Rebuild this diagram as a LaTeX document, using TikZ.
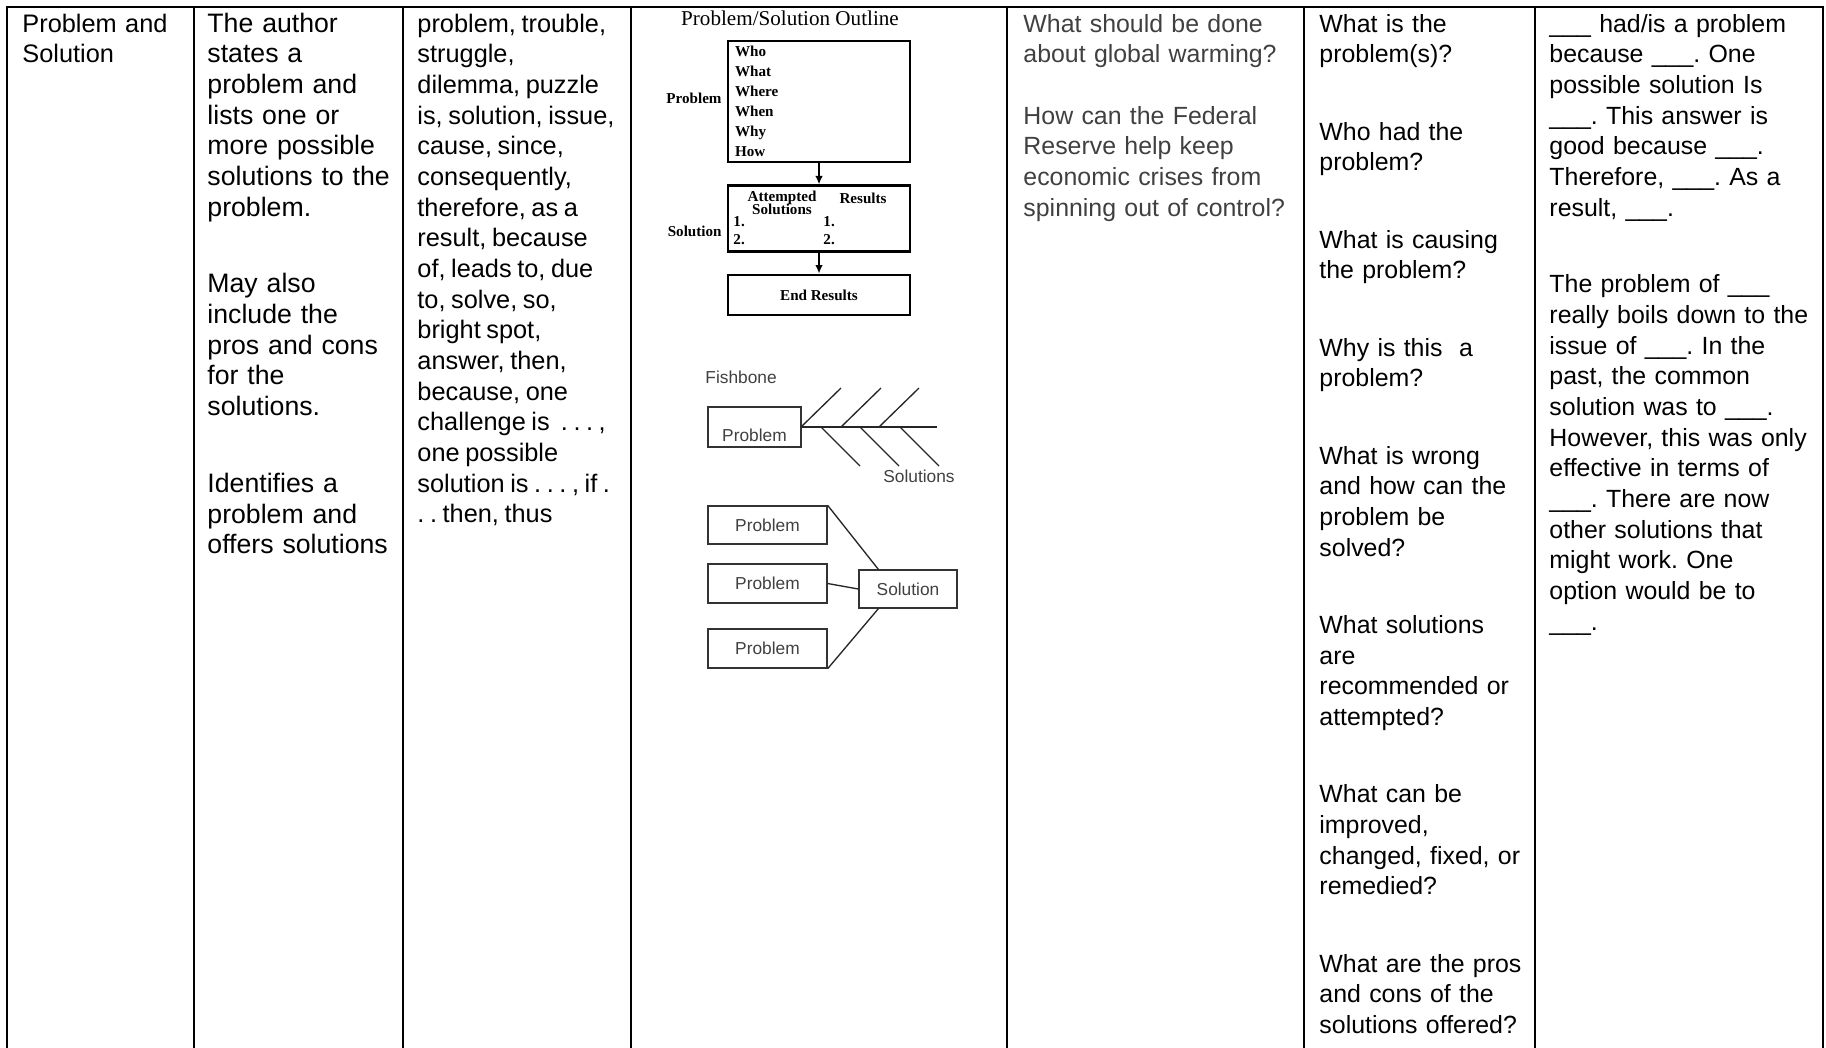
\documentclass[tikz,border=0pt]{standalone}
\usepackage{fontspec}
\setmainfont{Liberation Sans}
\newfontfamily\outlinefont{Liberation Serif}
\usetikzlibrary{positioning,arrows.meta}
\newcommand{\blank}{\_\_\_}
\newcommand{\cellsize}[1]{\fontsize{#1}{13.8pt}\selectfont\frenchspacing}

\begin{document}
\begin{tikzpicture}[x=0.45pt,y=-0.45pt,
% Table style
grid/.style={line width=1.1pt,black,line cap=rect},
cell/.style={anchor=base west,inner sep=0pt,align=left,text width=150pt,
	font=\cellsize{11.2pt}},
grey/.style={cell,text=black!75},
% Outline style
outbox/.style={draw,line width=1pt,minimum width=81.9pt,inner sep=0pt},
outtext/.style={font=\outlinefont\bfseries\fontsize{6.8pt}{9pt}\selectfont,
	inner sep=0pt},
flow/.style={line width=0.9pt,-{Latex[length=3.8pt,width=3.4pt]}},
% Fishbone and web style
fbtext/.style={text=black!75,font=\fontsize{7.8pt}{9pt}\selectfont},
fbbox/.style={draw=black!80,line width=0.6pt,fbtext,inner sep=0pt},
bone/.style={line width=0.6pt,black!85},
]
\useasboundingbox (0,0) rectangle (1826,1047);
%% Draw table rules
\draw[grid] (7,7) -- (1823,7);
\foreach \x in {7,194,403,631,1007,1304,1535,1823}
	\draw[grid] (\x,7) -- (\x,1047);

%% Text columns
\node (type) [cell,font=\cellsize{11.4pt}] at (22,32) {Problem and\\Solution};
\node (desc) [cell,font=\cellsize{12pt}] at (207,32) {The author\\states a\\problem and\\lists one or\\more possible\\solutions to the\\problem.\\[20.8pt]
	May also\\include the\\pros and cons\\for the\\solutions.\\[20.8pt]
	Identifies a\\problem and\\offers solutions};
\node (words) [cell,font=\cellsize{11.4pt}] at (417,32) {\spaceskip=0.22em plus 0.1em\relax
	problem, trouble,\\struggle,\\dilemma, puzzle\\is, solution, issue,\\cause, since,\\consequently,\\therefore, as a\\result, because\\of, leads to, due\\to, solve, so,\\bright spot,\\answer, then,\\because, one\\challenge is~ . . . ,\\one possible\\solution is . . . , if .\\. . then, thus};
\node (ask) [grey] at (1023,32) {What should be done\\about global warming?\\[13.8pt]
	How can the Federal\\Reserve help keep\\economic crises from\\spinning out of control?};
\node (quest) [cell] at (1319,32) {What is the\\problem(s)?\\[21pt]
	Who had the\\problem?\\[21pt]
	What is causing\\the problem?\\[21pt]
	Why is this~ a\\problem?\\[21pt]
	What is wrong\\and how can the\\problem be\\solved?\\[21pt]
	What solutions\\are\\recommended or\\attempted?\\[21pt]
	What can be\\improved,\\changed, fixed, or\\remedied?\\[21pt]
	What are the pros\\and cons of the\\solutions offered?};
\node (frame) [cell] at (1549,32) {\blank{} had/is a problem\\because \blank. One\\possible solution Is\\\blank. This answer is\\good because \blank.\\Therefore, \blank. As a\\result, \blank.\\[20.8pt]
	The problem of \blank\\really boils down to the\\issue of \blank. In the\\past, the common\\solution was to \blank.\\However, this was only\\effective in terms of\\\blank. There are now\\other solutions that\\might work. One\\option would be to\\\blank.};

%% Problem/Solution outline
\node (title) [font=\outlinefont\fontsize{9.5pt}{11pt}\selectfont,inner sep=0pt]
	at (790,18) {Problem/Solution Outline};
\node (prob) [outbox,outtext,minimum height=54.45pt,align=left,text width=75.6pt,
	inner xsep=3.15pt] at (819,101.5) {Who\\What\\Where\\When\\Why\\How};
\node (probl) [outtext,anchor=east] at (722,98) {Problem};
\node (sol) [outbox,minimum height=29.7pt] at (819,218.5) {};
\node (att) [outtext,align=center] at (782,203) {Attempted\\[-3pt]Solutions};
\node (res) [outtext] at (863,198) {Results};
\node (a1) [outtext,anchor=west] at (733,222) {1.};
\node (a2) [outtext,anchor=west] at (733,240) {2.};
\node (r1) [outtext,anchor=west] at (823,222) {1.};
\node (r2) [outtext,anchor=west] at (823,240) {2.};
\node (soll) [outtext,anchor=east] at (722,231) {Solution};
\node (endres) [outbox,outtext,minimum height=18.3pt] at (819,295) {End Results};
\draw[flow] (prob) -- (sol);
\draw[flow] (sol) -- (endres);

%% Fishbone
\node (fish) [fbtext,anchor=west,inner sep=0pt] at (705,377) {Fishbone};
\node (fbprob) [fbbox,minimum width=41.85pt,minimum height=18pt,
	text height=15.5pt,text depth=2.5pt] at (754.5,427) {Problem};
\coordinate (tail) at (937,427);
\draw[bone] (fbprob.east) -- (tail);
\foreach \x in {801,841,879}
	\draw[bone] (\x,427) -- ++(40,-39);
\foreach \x in {821,860,900}
	\draw[bone] (\x,427) -- ++(39,39);
\node (fbsol) [fbtext,inner sep=0pt] at (919,476) {Solutions};

%% Problems into one solution
\node (p1) [fbbox,minimum width=53.55pt,minimum height=17.1pt] at (767.5,525) {Problem};
\node (p2) [fbbox,minimum width=53.55pt,minimum height=17.55pt] at (767.5,583.5) {Problem};
\node (p3) [fbbox,minimum width=53.55pt,minimum height=17.55pt] at (767.5,648.5) {Problem};
\node (web) [fbbox,minimum width=44.1pt,minimum height=17.1pt] at (908,589) {Solution};
\draw[bone] (p1.north east) -- ([xshift=9pt]web.north west);
\draw[bone] (p2.east) -- (web.west);
\draw[bone] (p3.south east) -- ([xshift=9pt]web.south west);

\end{tikzpicture}
\end{document}
